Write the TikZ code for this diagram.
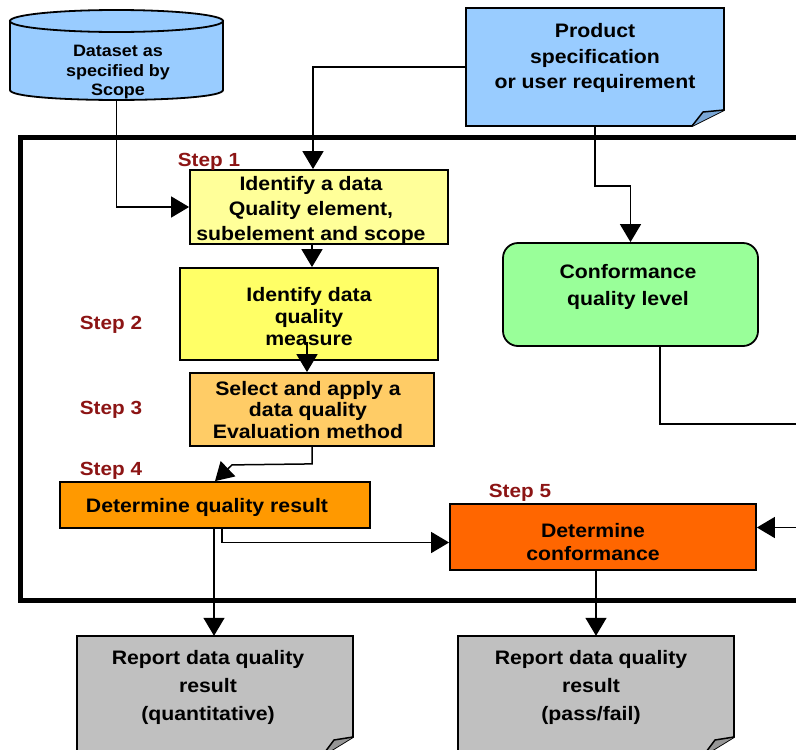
\documentclass[tikz,border=0pt]{standalone}
\usepackage{fontspec}
\setmainfont{Liberation Sans}[FakeStretch=1.09]
\usetikzlibrary{arrows.meta}
\definecolor{dsblue}{HTML}{99CCFF}
\definecolor{foldblue}{HTML}{7AA7D6}
\definecolor{soney}{HTML}{FFFF99}
\definecolor{stwoy}{HTML}{FFFF66}
\definecolor{sthree}{HTML}{FFCC66}
\definecolor{sfour}{HTML}{FF9900}
\definecolor{sfive}{HTML}{FF6600}
\definecolor{cgreen}{HTML}{99FF99}
\definecolor{rgray}{HTML}{C0C0C0}
\definecolor{foldgray}{HTML}{969696}
\definecolor{steprd}{RGB}{140,20,20}
\newcommand\myfnt[2]{\bfseries\fontsize{#1}{#2}\selectfont}
\begin{document}
\begin{tikzpicture}[x=1pt,y=-1pt,
  box/.style={draw=black, line width=1.8pt, inner sep=0pt},
  anchorbox/.style={inner sep=0pt, draw=none},
  txt/.style={align=center, inner sep=0pt},
  steplab/.style={text=steprd, font=\myfnt{19}{22}, inner sep=0pt},
  conn/.style={line width=1.5pt, -{Triangle[length=18pt,width=21pt]}},
  shapeline/.style={line width=1.8pt}]
\useasboundingbox (0,0) rectangle (796,750);
\clip (0,0) rectangle (796,750);
\fill[white] (0,0) rectangle (796,750);

% outer frame
\draw[line width=5pt] (20,137) rectangle (860,600);

% dataset cylinder
\node[anchorbox, minimum width=213pt, minimum height=90pt] (ds) at (116.5,55) {};
\filldraw[fill=dsblue, shapeline] (10,21) -- (10,90) .. controls (10,103.3) and (223,103.3) .. (223,90) -- (223,21) -- cycle;
\filldraw[fill=dsblue, shapeline] (116.5,21) ellipse [x radius=106.5, y radius=11];
\node[txt, font=\myfnt{16.5}{19.5}] at (118,72.5) {Dataset as\\specified by\\Scope};

% product specification
\node[anchorbox, minimum width=258pt, minimum height=118pt] (ps) at (595,67) {};
\filldraw[fill=dsblue, shapeline] (466,8) -- (724,8) -- (724,110) -- (692,126) -- (466,126) -- cycle;
\filldraw[fill=foldblue, line width=1.5pt] (692,126) -- (703,112) -- (724,110);
\node[txt, font=\myfnt{19.5}{25.5}] at (595,58) {Product\\specification\\or user requirement};

% step boxes
\node[box, fill=soney, minimum width=258pt, minimum height=74pt] (s1) at (319,207) {};
\node[txt, font=\myfnt{19.5}{25}] at (311,210) {Identify a data\\Quality element,\\subelement and scope};
\node[steplab] at (209,162) {Step 1};

\node[box, fill=stwoy, minimum width=258pt, minimum height=92pt] (s2) at (309,314) {};
\node[txt, font=\myfnt{19.5}{22}] at (309,317) {Identify data\\quality\\measure};
\node[steplab] at (111,325) {Step 2};

\node[box, fill=sthree, minimum width=244pt, minimum height=73pt] (s3) at (312,409.5) {};
\node[txt, font=\myfnt{19.5}{21.5}] at (308,410) {Select and apply a\\data quality\\Evaluation method};
\node[steplab] at (111,410) {Step 3};

\node[box, fill=sfour, minimum width=310pt, minimum height=46pt] (s4) at (215,505) {};
\node[txt, font=\myfnt{19.5}{22}] at (207,507) {Determine quality result};
\node[steplab] at (111,471) {Step 4};

\node[box, fill=sfive, minimum width=306pt, minimum height=66pt] (s5) at (603,537) {};
\node[txt, font=\myfnt{19.5}{23}] at (593,542.5) {Determine\\conformance};
\node[steplab] at (520,493) {Step 5};

% conformance quality level
\node[box, fill=cgreen, rounded corners=15pt, minimum width=255pt, minimum height=103pt] (cq) at (630.5,294.5) {};
\node[txt, font=\myfnt{19.5}{27}] at (628,286.5) {Conformance\\quality level};

% reports
\node[anchorbox, minimum width=276pt, minimum height=124pt] (r1) at (215,698) {};
\filldraw[fill=rgray, shapeline] (77,636) -- (353,636) -- (353,737) -- (322,756) -- (77,756) -- cycle;
\filldraw[fill=foldgray, line width=1.5pt] (322,756) -- (334,740) -- (353,737);
\node[txt, font=\myfnt{19.5}{28}] at (208,687) {Report data quality\\result\\(quantitative)};

\node[anchorbox, minimum width=276pt, minimum height=124pt] (r2) at (596,698) {};
\filldraw[fill=rgray, shapeline] (458,636) -- (734,636) -- (734,737) -- (703,756) -- (458,756) -- cycle;
\filldraw[fill=foldgray, line width=1.5pt] (703,756) -- (715,740) -- (734,737);
\node[txt, font=\myfnt{19.5}{28}] at (591,687) {Report data quality\\result\\(pass/fail)};

% connectors
\draw[conn] (ds.south) |- (s1.west);
\draw[conn] (ps.west) -| ([xshift=-6pt]s1.north);
\draw[conn] (ps.south) -- ++(0,60) -| (cq.north);
\draw[conn] ([xshift=-7pt]s1.south) -- ([xshift=-7pt]s1.south |- s2.north);
\draw[conn] ([xshift=-2pt,yshift=19pt]s2.south) -- ([xshift=-2pt]s2.south |- s3.north);
\draw[conn] (s3.south) -- ++(0,17) -- ++(-80,1) -- (s4.north);
\draw[conn] ([xshift=7pt]s4.south) |- ([yshift=-5.5pt]s5.west);
\draw[conn] ([xshift=-1pt]s4.south) -- ([xshift=-1pt]s4.south |- r1.north);
\draw[conn] (r2.north |- s5.south) -- (r2.north);
\draw[conn] ([xshift=29.5pt]cq.south) -- ++(0,77) -- ++(200,0) |- ([yshift=9.5pt]s5.east);
\end{tikzpicture}
\end{document}
